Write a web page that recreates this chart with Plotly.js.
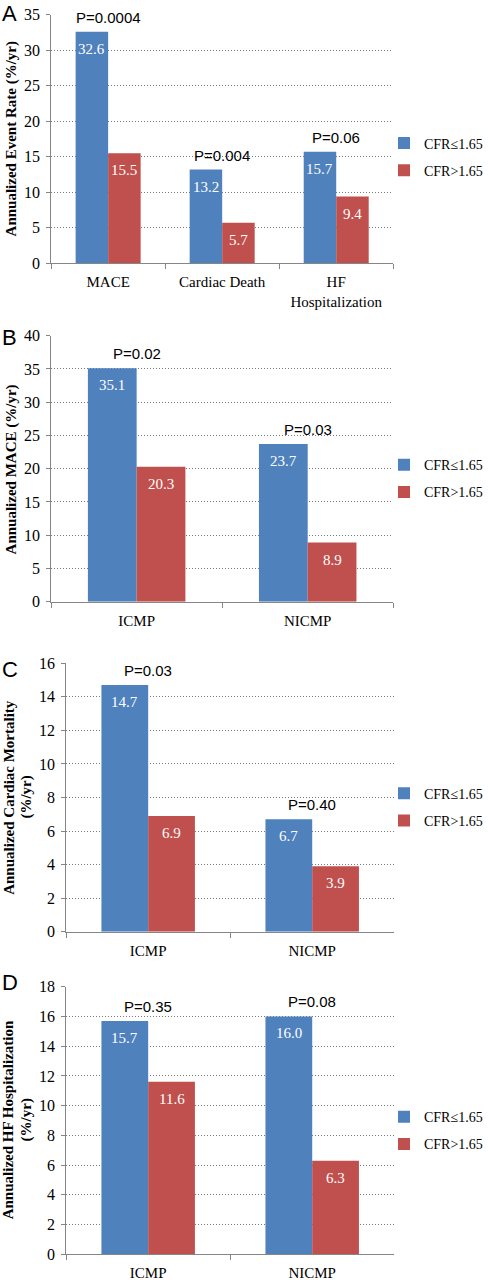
<!DOCTYPE html>
<html>
<head>
<meta charset="utf-8">
<script src="https://cdn.plot.ly/plotly-3.0.1.min.js"></script>
<style>html,body{margin:0;padding:0;background:#fff;}#chart{width:488px;height:1280px;}</style>
</head>
<body>
<div id="chart"></div>
<script>
// ---- data ----
const seriesNames = ['CFR≤1.65', 'CFR>1.65'];
const seriesColors = ['#4F81BD', '#C0504D'];

const categoriesA = ['MACE', 'Cardiac Death', 'HF<br>Hospitalization'];
const lowCfrA = [32.6, 13.2, 15.7];
const highCfrA = [15.5, 5.7, 9.4];
const pValuesA = ['P=0.0004', 'P=0.004', 'P=0.06'];

const categoriesB = ['ICMP', 'NICMP'];
const lowCfrB = [35.1, 23.7];
const highCfrB = [20.3, 8.9];
const pValuesB = ['P=0.02', 'P=0.03'];

const categoriesC = ['ICMP', 'NICMP'];
const lowCfrC = [14.7, 6.7];
const highCfrC = [6.9, 3.9];
const pValuesC = ['P=0.03', 'P=0.40'];

const categoriesD = ['ICMP', 'NICMP'];
const lowCfrD = [15.7, 16.0];
const highCfrD = [11.6, 6.3];
const pValuesD = ['P=0.35', 'P=0.08'];

const panelLetters = ['A', 'B', 'C', 'D'];
const yTitles = [
  ['Annualized Event Rate (%/yr)'],
  ['Annualized MACE (%/yr)'],
  ['Annualized Cardiac Mortality', '(%/yr)'],
  ['Annualized HF Hospitalization', '(%/yr)']
];
const yMax = [35, 40, 16, 18];
const yStep = [5, 5, 2, 2];

// ---- layout geometry (pixels) ----
const W = 488, H = 1280;
const px = v => v / W;
const py = v => 1 - v / H;
const serif = 'Liberation Serif, Times New Roman, serif';
const sans = 'Liberation Sans, Arial, sans-serif';
const BARGAP = 0.43;
const barOffset = (1 - BARGAP) / 4; // centre of each of the two bars, in category units

const panels = [
  {cats: categoriesA, low: lowCfrA, high: highCfrA, p: pValuesA, x0: 52.3, x1: 402.3, top: 14.7, bot: 263.3, legY: 157, titleX: [12], titleY: 138.7, letterTop: 0},
  {cats: categoriesB, low: lowCfrB, high: highCfrB, p: pValuesB, x0: 52.3, x1: 402.3, top: 335.7, bot: 601.7, legY: 478.7, titleX: [11.7], titleY: 469, letterTop: 324},
  {cats: categoriesC, low: lowCfrC, high: highCfrC, p: pValuesC, x0: 67.7, x1: 403.3, top: 663.3, bot: 931.7, legY: 807.2, titleX: [8.5, 26.7], titleY: 797.5, letterTop: 656},
  {cats: categoriesD, low: lowCfrD, high: highCfrD, p: pValuesD, x0: 67.7, x1: 403.3, top: 986.7, bot: 1254.3, legY: 1130.7, titleX: [8.5, 27], titleY: 1120, letterTop: 969}
];

const traces = [];
const annotations = [];
const layout = {
  width: W, height: H,
  margin: {l: 0, r: 0, t: 0, b: 0},
  paper_bgcolor: '#fff', plot_bgcolor: '#fff',
  barmode: 'group', bargap: BARGAP, bargroupgap: 0,
  font: {family: serif, size: 15, color: '#000'},
  annotations: annotations
};

panels.forEach((pn, i) => {
  const n = i === 0 ? '' : String(i + 1);
  const xa = 'x' + n, ya = 'y' + n;
  const legName = 'legend' + n;
  [pn.low, pn.high].forEach((vals, s) => {
    traces.push({
      type: 'bar', x: pn.cats, y: vals, name: seriesNames[s],
      xaxis: xa, yaxis: ya, legend: legName, legendgroup: 'g' + s,
      marker: {color: seriesColors[s], line: {width: 0}},
      textposition: 'none',
      hoverinfo: 'skip'
    });
    // value labels inside the top of each bar
    vals.forEach((v, k) => {
      annotations.push({
        xref: xa, yref: ya, x: k + (s === 0 ? -barOffset : barOffset), y: v,
        yanchor: 'top', yshift: -7, text: v.toFixed(1), showarrow: false,
        font: {family: serif, size: 15, color: '#fff'}
      });
    });
  });
  layout['xaxis' + n] = {
    domain: [px(pn.x0), px(pn.x1)], anchor: ya,
    showline: true, linecolor: '#868686', linewidth: 1,
    ticks: 'outside', tickson: 'boundaries', ticklen: 5, tickcolor: '#868686',
    ticklabelstandoff: 5,
    tickfont: {family: serif, size: 15, color: '#000'},
    showgrid: false, zeroline: false, fixedrange: true
  };
  layout['yaxis' + n] = {
    domain: [py(pn.bot), py(pn.top)], anchor: xa,
    range: [0, yMax[i]], dtick: yStep[i], tick0: 0,
    showline: true, linecolor: '#868686', linewidth: 1,
    ticks: 'outside', ticklen: 4, tickcolor: '#868686', ticklabelstandoff: 3,
    tickfont: {family: serif, size: 16, color: '#000'},
    showgrid: true, gridcolor: '#7a7a7a', gridwidth: 1, griddash: '1px,2px',
    zeroline: false, fixedrange: true
  };
  layout[legName] = {
    x: px(393), xanchor: 'left', y: py(pn.legY), yanchor: 'middle',
    bgcolor: 'rgba(0,0,0,0)', traceorder: 'grouped', tracegroupgap: 6,
    font: {family: serif, size: 14, color: '#000'}
  };
  // p-values above each category
  pn.cats.forEach((c, k) => {
    annotations.push({
      xref: xa, yref: ya, x: k, y: pn.low[k], yanchor: 'bottom', yshift: 4,
      text: pn.p[k], showarrow: false,
      font: {family: sans, size: 15, color: '#000'}
    });
  });
  // y-axis title (one annotation per line)
  yTitles[i].forEach((line, j) => {
    annotations.push({
      xref: 'paper', yref: 'paper', x: px(pn.titleX[j]), y: py(pn.titleY),
      xanchor: 'center', yanchor: 'middle', textangle: -90,
      text: '<b>' + line + '</b>', showarrow: false,
      font: {family: serif, size: 15, color: '#000'}
    });
  });
  // panel letter
  annotations.push({
    xref: 'paper', yref: 'paper', x: px(1), y: py(pn.letterTop),
    xanchor: 'left', yanchor: 'top', borderpad: 0,
    text: panelLetters[i], showarrow: false,
    font: {family: sans, size: 22, color: '#000'}
  });
});

Plotly.newPlot('chart', traces, layout, {staticPlot: true, displayModeBar: false});
</script>
</body>
</html>
